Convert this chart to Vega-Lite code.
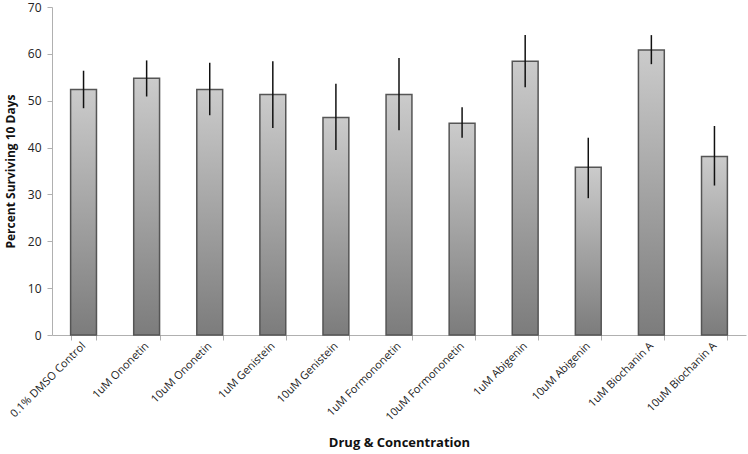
{
  "$schema": "https://vega.github.io/schema/vega-lite/v6.json",
  "autosize": {"type": "none"},
  "padding": {"left": 52, "top": 7, "right": 2, "bottom": 119},
  "width": 694,
  "height": 328,
  "background": "white",
  "config": {
    "view": {"stroke": null},
    "font": "Open Sans",
    "axis": {"grid": false, "domainColor": "#b0b0b0", "tickColor": "#b0b0b0", "labelColor": "#222", "titleColor": "#111", "labelFont": "Open Sans", "titleFont": "Open Sans"}
  },
  "data": {
    "values": [
      {"drug": "0.1% DMSO Control", "value": 52.4, "lo": 48.4, "hi": 56.4},
      {"drug": "1uM Ononetin", "value": 54.8, "lo": 50.9, "hi": 58.6},
      {"drug": "10uM Ononetin", "value": 52.4, "lo": 46.9, "hi": 58.1},
      {"drug": "1uM Genistein", "value": 51.3, "lo": 44.2, "hi": 58.4},
      {"drug": "10uM Genistein", "value": 46.4, "lo": 39.5, "hi": 53.6},
      {"drug": "1uM Formononetin", "value": 51.3, "lo": 43.7, "hi": 59.1},
      {"drug": "10uM Formononetin", "value": 45.2, "lo": 42.1, "hi": 48.6},
      {"drug": "1uM Abigenin", "value": 58.4, "lo": 52.9, "hi": 64.0},
      {"drug": "10uM Abigenin", "value": 35.8, "lo": 29.2, "hi": 42.1},
      {"drug": "1uM Biochanin A", "value": 60.8, "lo": 57.8, "hi": 64.0},
      {"drug": "10uM Biochanin A", "value": 38.1, "lo": 31.9, "hi": 44.6}
    ]
  },
  "encoding": {
    "x": {
      "field": "drug", "type": "nominal", "sort": null,
      "scale": {"paddingInner": 0.59, "paddingOuter": 0.295},
      "axis": {"title": "Drug & Concentration", "labelAngle": -45, "labelAlign": "right", "labelBaseline": "middle", "labelFontSize": 11, "tickBand": "extent", "tickSize": 5, "labelPadding": 4, "titleFontSize": 13, "titleFontWeight": "bold", "titlePadding": 14}
    }
  },
  "layer": [
    {
      "mark": {
        "type": "bar",
        "stroke": "#555555",
        "strokeWidth": 1.5,
        "color": {"gradient": "linear", "x1": 0, "y1": 0, "x2": 0, "y2": 1, "stops": [{"offset": 0, "color": "#cbcbcb"}, {"offset": 1, "color": "#7c7c7c"}]}
      },
      "encoding": {
        "y": {
          "field": "value", "type": "quantitative",
          "scale": {"domain": [0, 70], "nice": false},
          "axis": {"title": "Percent Surviving 10 Days", "values": [0, 10, 20, 30, 40, 50, 60, 70], "tickSize": 5, "labelFontSize": 12, "labelPadding": 6, "titleFontSize": 12, "titleFontWeight": "bold", "titlePadding": 10}
        }
      }
    },
    {
      "mark": {"type": "rule", "color": "#111111", "strokeWidth": 1.5},
      "encoding": {
        "y": {"field": "lo", "type": "quantitative"},
        "y2": {"field": "hi"}
      }
    }
  ]
}
